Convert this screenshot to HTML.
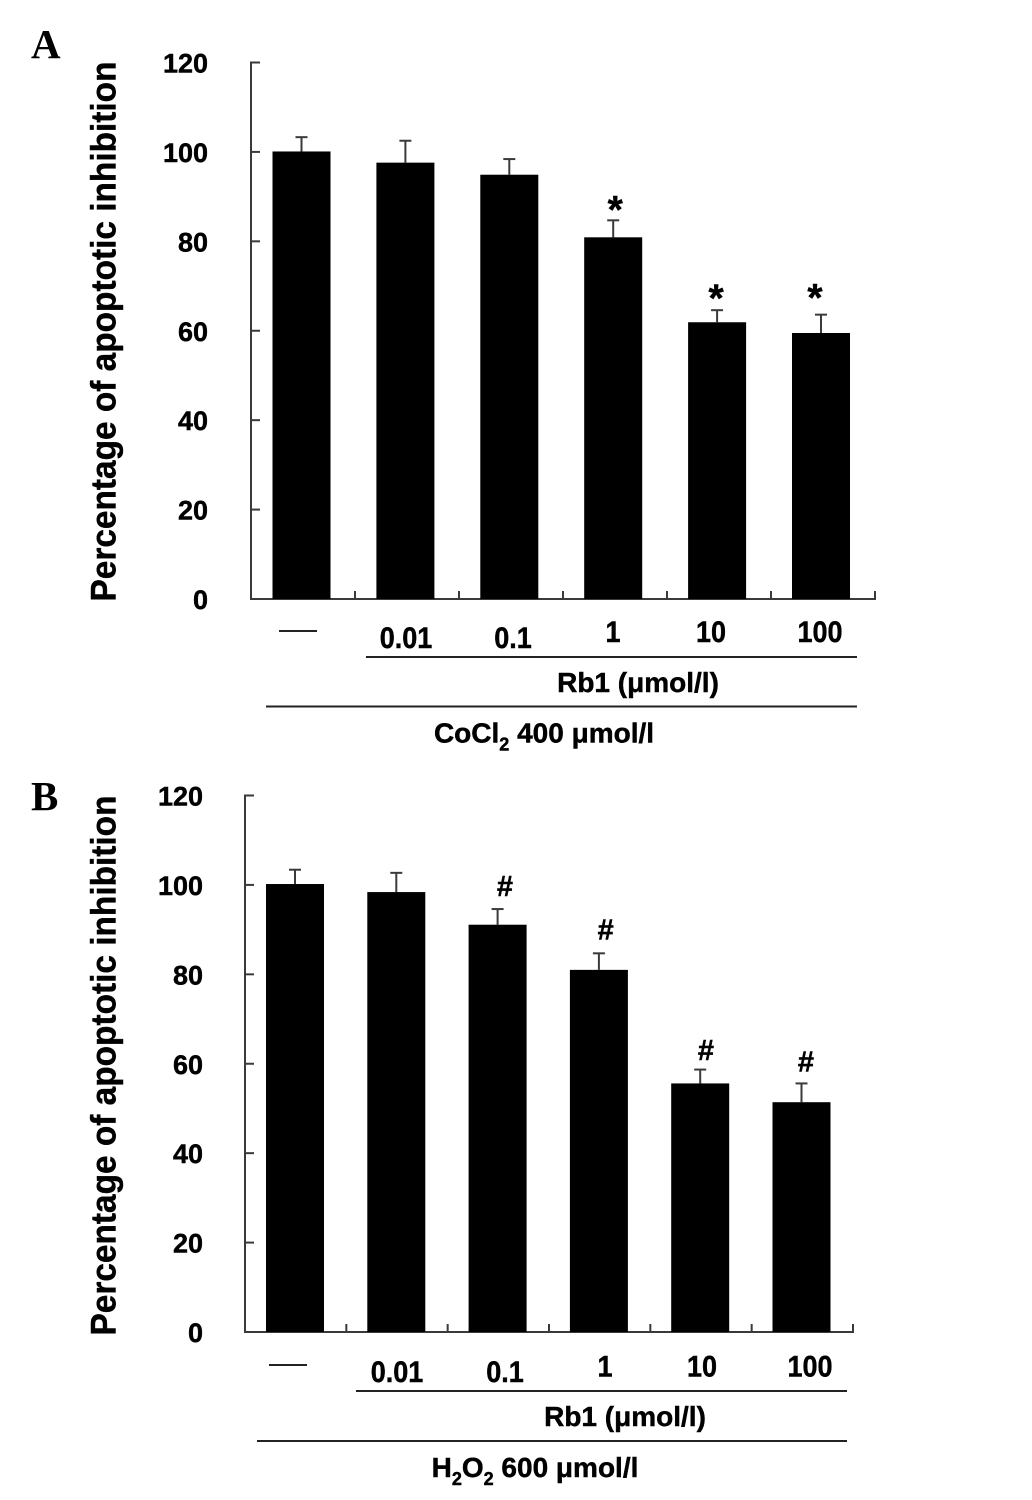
<!DOCTYPE html>
<html>
<head>
<meta charset="utf-8">
<style>
html,body{margin:0;padding:0;background:#fff;}
svg{display:block;font-family:"Liberation Sans",Arial,sans-serif;font-weight:bold;fill:#000;}
svg text{stroke:#000;stroke-width:.45px;}
</style>
</head>
<body>
<svg id="chart" width="1032" height="1500" viewBox="0 0 1032 1500" xmlns="http://www.w3.org/2000/svg"></svg>
<script>
const yTicks = [0, 20, 40, 60, 80, 100, 120];
const categories = ["—", "0.01", "0.1", "1", "10", "100"];
const valuesA = [100.1, 97.6, 94.9, 80.9, 61.9, 59.5];
const errorsA = [3.2, 4.9, 3.5, 3.8, 2.7, 4.1];
const marksA = ["", "", "", "*", "*", "*"];
const valuesB = [100.2, 98.4, 91.1, 81.0, 55.6, 51.4];
const errorsB = [3.2, 4.3, 3.5, 3.7, 3.1, 4.2];
const marksB = ["", "", "#", "#", "#", "#"];

const svg = document.getElementById('chart');
const NS = 'http://www.w3.org/2000/svg';
const AXIS = '#3a3a3a';
function add(parent, tag, attrs, text) {
  const el = document.createElementNS(NS, tag);
  for (const k in attrs) el.setAttribute(k, attrs[k]);
  if (text !== undefined) el.textContent = text;
  parent.appendChild(el);
  return el;
}
function drawPanel(cfg) {
  const g = add(svg, 'g', {});
  
  
  const yScale = v => cfg.y0 + (cfg.y120 - cfg.y0) * v / 120;
  const step = (cfg.xEnd - cfg.xAxis) / categories.length;
  const xCenter = i => cfg.firstCenter + i * cfg.barStep;

  const letter = add(g, 'text', {x: cfg.letterX, y: cfg.letterY, 'font-size': 41, style: 'font-family:"Liberation Serif",serif;stroke-width:0'}, cfg.letter);
  
  

  const title = add(g, 'text', {x: 0, y: 0, 'font-size': 35, 'text-anchor': 'middle', transform: `translate(115.5 ${cfg.titleY}) rotate(-90)`, textLength: 540, lengthAdjust: 'spacingAndGlyphs'}, 'Percentage of apoptotic inhibition');
  
  

  const yAxis = add(g, 'line', {x1: cfg.xAxis, x2: cfg.xAxis, y1: yScale(120) - 1, y2: yScale(0) + 1, stroke: AXIS, 'stroke-width': 2});
  
  
  const xAxis = add(g, 'line', {x1: cfg.xAxis, x2: cfg.xEnd + 1, y1: yScale(0), y2: yScale(0), stroke: AXIS, 'stroke-width': 2});
  
  

  yTicks.forEach(t => {
    const tick = add(g, 'line', {x1: cfg.xAxis, x2: cfg.xAxis + 9, y1: yScale(t), y2: yScale(t), stroke: AXIS, 'stroke-width': 2});
    
    
    const lab = add(g, 'text', {x: cfg.yLabelX, y: yScale(t) + 10, 'font-size': 27, 'text-anchor': 'end'}, String(t));
    
    
  });
  for (let i = 1; i <= categories.length; i++) {
    const tx = cfg.xAxis + i * step;
    const tick = add(g, 'line', {x1: tx, x2: tx, y1: yScale(0), y2: yScale(0) - 8, stroke: AXIS, 'stroke-width': 2});
    
    
  }
  cfg.values.forEach((v, i) => {
    const cx = xCenter(i);
    const errTop = yScale(v + cfg.errors[i]);
    const err = add(g, 'line', {x1: cx, x2: cx, y1: errTop, y2: yScale(v), stroke: AXIS, 'stroke-width': 2});
    
    
    const cap = add(g, 'line', {x1: cx - 6, x2: cx + 6, y1: errTop, y2: errTop, stroke: AXIS, 'stroke-width': 2});
    
    
    const bar = add(g, 'rect', {x: cx - cfg.barW / 2, y: yScale(v), width: cfg.barW, height: yScale(0) - yScale(v), fill: '#000'});
    
    
    if (cfg.marks[i]) {
      const isStar = cfg.marks[i] === '*';
      const m = add(g, 'text', {x: cx + cfg.markDx[i], y: errTop + cfg.markDy[i] + (isStar ? 20.5 : 9), 'font-size': isStar ? 39 : 29, 'text-anchor': 'middle'}, cfg.marks[i]);
      
      
    }
  });
  categories.forEach((c, i) => {
    if (i === 0) return;
    const lab = add(g, 'text', {x: 0, y: 0, 'font-size': 30, 'text-anchor': 'middle', transform: `translate(${cfg.catX[i]} ${cfg.catY[i]}) scale(.9 1)`}, c);
    
    
  });
  const dash = add(g, 'line', {x1: cfg.catX[0] - 19, x2: cfg.catX[0] + 19, y1: cfg.dashY, y2: cfg.dashY, stroke: '#222', 'stroke-width': 2});
  
  
  const line1 = add(g, 'line', {x1: cfg.rbLine[0], x2: cfg.rbLine[1], y1: cfg.rbLine[2], y2: cfg.rbLine[2], stroke: '#222', 'stroke-width': 2});
  
  
  const rb = add(g, 'text', {x: cfg.rbX, y: cfg.rbLine[2] + 35, 'font-size': 28, 'text-anchor': 'middle'}, 'Rb1 (μmol/l)');
  
  
  const line2 = add(g, 'line', {x1: cfg.trLine[0], x2: cfg.trLine[1], y1: cfg.trLine[2], y2: cfg.trLine[2], stroke: '#222', 'stroke-width': 2});
  
  
  const tr = add(g, 'text', {x: cfg.trX, y: cfg.trLine[2] + 36, 'font-size': 28, 'text-anchor': 'middle'});
  
  
  cfg.trParts.forEach(p => {
    const s = add(tr, 'tspan', p.sub ? {'font-size': 18, dy: 8} : {dy: p.after ? -8 : 0}, p.t);
    
    
  });
}
drawPanel({
  id: 'panel-a', letter: 'A', letterX: 31, letterY: 58, titleY: 331.5,
  y0: 599, y120: 62.5, xAxis: 251, xEnd: 875, yLabelX: 208,
  firstCenter: 301.5, barStep: 103.9, barW: 58,
  values: valuesA, errors: errorsA, marks: marksA,
  markDx: [0, 0, 0, 2, -1, -6], markDy: [0, 0, 0, -18, -19, -24],
  catX: [298, 406, 513, 613, 711, 820], catY: [648, 648, 648, 642, 642, 642], dashY: 631,
  rbLine: [366, 857, 657], rbX: 638,
  trLine: [266, 857, 706.5], trX: 544,
  trParts: [{t: 'CoCl'}, {t: '2', sub: true}, {t: ' 400 μmol/l', after: true}]
});
drawPanel({
  id: 'panel-b', letter: 'B', letterX: 31, letterY: 810, titleY: 1065.5,
  y0: 1332, y120: 795.5, xAxis: 245, xEnd: 853, yLabelX: 203,
  firstCenter: 295, barStep: 101.3, barW: 58,
  values: valuesB, errors: errorsB, marks: marksB,
  markDx: [0, 0, 7.4, 6.8, 5.8, 4.5], markDy: [0, 0, -22, -23, -18.6, -21],
  catX: [288, 397, 505, 605, 702, 810], catY: [1382, 1382, 1382, 1376.5, 1376.5, 1376.5], dashY: 1365,
  rbLine: [356, 847, 1391], rbX: 625,
  trLine: [257, 847, 1441], trX: 535,
  trParts: [{t: 'H'}, {t: '2', sub: true}, {t: 'O', after: true}, {t: '2', sub: true}, {t: ' 600 μmol/l', after: true}]
});
</script>
</body>
</html>
